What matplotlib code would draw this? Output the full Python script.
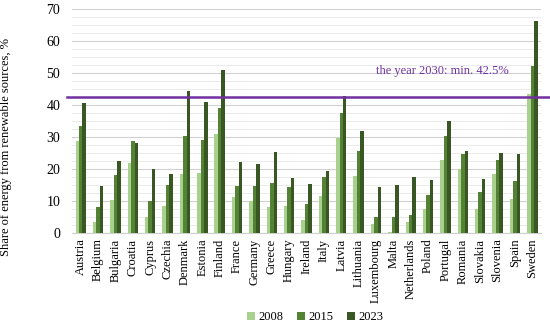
import matplotlib
matplotlib.use("Agg")
import matplotlib.pyplot as plt
import numpy as np
from matplotlib.ticker import MultipleLocator

countries = ["Austria", "Belgium", "Bulgaria", "Croatia", "Cyprus", "Czechia",
             "Denmark", "Estonia", "Finland", "France", "Germany", "Greece",
             "Hungary", "Ireland", "Italy", "Latvia", "Lithuania", "Luxembourg",
             "Malta", "Netherlands", "Poland", "Portugal", "Romania", "Slovakia",
             "Slovenia", "Spain", "Sweden"]
share_2008 = [28.8, 3.4, 10.3, 22.0, 5.1, 8.5, 18.4, 18.8, 31.0, 11.1, 10.0, 8.1,
              8.4, 4.0, 11.5, 29.8, 17.8, 2.7, 0.2, 3.4, 7.6, 22.8, 20.1, 7.6,
              18.5, 10.6, 43.3]
share_2015 = [33.4, 8.0, 18.2, 28.8, 9.9, 15.0, 30.3, 29.0, 39.2, 14.8, 14.8, 15.6,
              14.4, 9.1, 17.4, 37.5, 25.6, 5.0, 5.0, 5.6, 11.8, 30.4, 24.8, 12.8,
              22.8, 16.2, 52.2]
share_2023 = [40.7, 14.7, 22.5, 28.0, 20.1, 18.4, 44.3, 40.8, 50.8, 22.2, 21.5, 25.2,
              17.1, 15.2, 19.5, 42.8, 31.9, 14.4, 15.0, 17.4, 16.6, 35.1, 25.6, 17.0,
              25.1, 24.8, 66.3]
years = ["2008", "2015", "2023"]
target = 42.5
target_label = "the year 2030: min. 42.5%"

colors = ["#a9d18e", "#548235", "#385723"]
plt.rcParams["font.family"] = ["Liberation Serif", "DejaVu Serif"]

fig = plt.figure(figsize=(5.5, 3.27), dpi=100)
ax = fig.add_axes([0.131, 0.2875, 0.8526, 0.685])

x = np.arange(len(countries))
w = 0.2
for i, (vals, yr) in enumerate(zip([share_2008, share_2015, share_2023], years)):
    ax.bar(x + (i - 1) * w, vals, width=w, color=colors[i], label=yr, zorder=3)

ax.set_xlim(-0.5, len(countries) - 0.5)
ax.set_ylim(0, 70)
ax.yaxis.set_major_locator(MultipleLocator(10))
ax.yaxis.set_minor_locator(MultipleLocator(2.5))
ax.grid(axis="y", which="major", color="#d0d0d0", lw=0.8, zorder=0)
ax.grid(axis="y", which="minor", color="#e6e6e6", lw=0.6, zorder=0)
for s in ["top", "right", "left"]:
    ax.spines[s].set_visible(False)
ax.spines["bottom"].set_color("#d0d0d0")
ax.tick_params(axis="both", which="both", length=0)
ax.tick_params(axis="y", pad=8.5, labelsize=10)
ax.tick_params(axis="x", pad=4, labelsize=9)
ax.set_xticks(x)
ax.set_xticklabels(countries, rotation=90)
ax.set_ylabel("Share of energy from renewable sources, %", fontsize=9)
ax.yaxis.set_label_coords(-0.128, 0.386)

# 2030 target line, extends a bit beyond the plot area
ax.plot([-0.8, 27.0], [target, target], color="#7030a0", lw=1.8, clip_on=False, zorder=4)
ax.text(17.0, 50.6, target_label, color="#7030a0", fontsize=9, va="center", ha="left")

fig.legend(loc="center", bbox_to_anchor=(0.573, 0.03), ncol=3, frameon=False,
           fontsize=9, handlelength=0.6, handleheight=0.6, handletextpad=0.3,
           columnspacing=1.1, borderpad=0)

fig.savefig("out.png", dpi=100)
